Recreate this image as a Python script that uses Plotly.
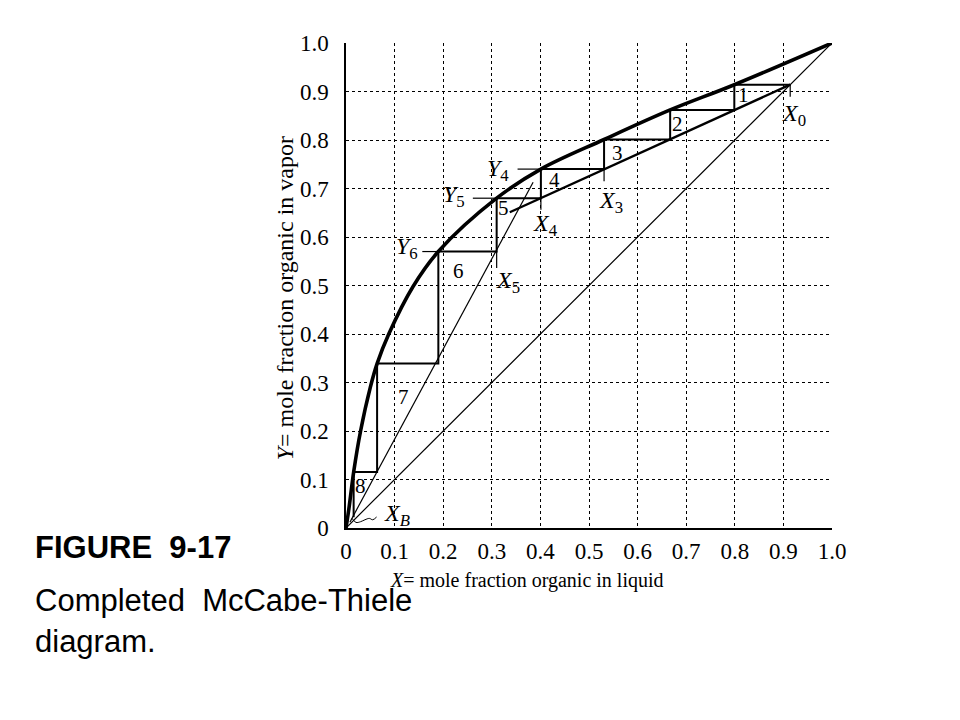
import plotly.graph_objects as go

# ---- data ----
eq_x = [0.0, 0.006, 0.016, 0.030, 0.050, 0.064, 0.088, 0.138, 0.190, 0.310, 0.401, 0.531, 0.667, 0.799, 1.0]
eq_y = [0.0, 0.040, 0.117, 0.200, 0.290, 0.339, 0.400, 0.498, 0.570, 0.680, 0.740, 0.801, 0.862, 0.914, 1.0]

diag_x = [0.0, 1.0]
diag_y = [0.0, 1.0]

upper_op_x = [0.914, 0.337]
upper_op_y = [0.914, 0.651]

lower_op_x = [0.008, 0.385]
lower_op_y = [0.012, 0.713]

X0 = 0.914
stage_x = [0.799, 0.667, 0.531, 0.401, 0.310, 0.190, 0.064, 0.0157]
stage_y = [0.914, 0.862, 0.801, 0.740, 0.680, 0.570, 0.339, 0.1155]
last_y = 0.022
stage_lbl = ["1", "2", "3", "4", "5", "6", "7", "8"]
stage_lbl_x = [0.818, 0.682, 0.558, 0.428, 0.325, 0.232, 0.118, 0.030]
stage_lbl_y = [0.893, 0.832, 0.773, 0.718, 0.660, 0.529, 0.271, 0.086]

# short marker ticks
tick_X_x = [0.914, 0.531, 0.401, 0.310, 0.010]
tick_X_y0 = [0.914, 0.740, 0.680, 0.570, 0.0]
tick_X_y1 = [0.889, 0.715, 0.656, 0.536, -0.03]
tick_Y_y = [0.740, 0.680, 0.570]
tick_Y_x0 = [0.353, 0.261, 0.157]
tick_Y_x1 = [0.401, 0.310, 0.190]

squig_x = [0.0117, 0.0206, 0.030, 0.039, 0.048, 0.055, 0.063]
squig_y = [0.0206, 0.0115, 0.013, 0.017, 0.0198, 0.017, 0.0227]

pt_labels = ["<i>X</i><sub>0</sub>", "<i>X</i><sub>3</sub>", "<i>X</i><sub>4</sub>", "<i>X</i><sub>5</sub>",
             "<i>X<sub>B</sub></i>", "<i>Y</i><sub>4</sub>", "<i>Y</i><sub>5</sub>", "<i>Y</i><sub>6</sub>"]
pt_lbl_x = [0.893, 0.517, 0.380, 0.305, 0.075, 0.340, 0.248, 0.152]
pt_lbl_y = [0.852, 0.673, 0.625, 0.508, 0.027, 0.739, 0.685, 0.577]
pt_anchor = ["left", "left", "left", "left", "left", "right", "right", "right"]

tick_vals = [0, 0.1, 0.2, 0.3, 0.4, 0.5, 0.6, 0.7, 0.8, 0.9, 1.0]
tick_text = ["0", "0.1", "0.2", "0.3", "0.4", "0.5", "0.6", "0.7", "0.8", "0.9", "1.0"]

SERIF = "Liberation Serif, Times New Roman, serif"
SANS = "Liberation Sans, Arial, sans-serif"

fig = go.Figure()

def line(xs, ys, w, shape="linear"):
    fig.add_trace(go.Scatter(x=xs, y=ys, mode="lines", line=dict(color="black", width=w, shape=shape),
                             hoverinfo="skip", showlegend=False, cliponaxis=False))

line(diag_x, diag_y, 1.2)
line(lower_op_x, lower_op_y, 1.2)
line(upper_op_x, upper_op_y, 2.4)

# staircase
sx, sy = [X0], [stage_y[0]]
for i, xv in enumerate(stage_x):
    sx.append(xv); sy.append(stage_y[i])
    nxt = stage_y[i + 1] if i + 1 < len(stage_y) else last_y
    sx.append(xv); sy.append(nxt)
line(sx, sy, 2.0)

for xv, a, b in zip(tick_X_x, tick_X_y0, tick_X_y1):
    line([xv, xv], [a, b], 1.2)
for yv, a, b in zip(tick_Y_y, tick_Y_x0, tick_Y_x1):
    line([a, b], [yv, yv], 1.2)

line(squig_x, squig_y, 1.0, "spline")
line(eq_x, eq_y, 3.6, "spline")

for t, xv, yv in zip(stage_lbl, stage_lbl_x, stage_lbl_y):
    fig.add_annotation(x=xv, y=yv, text=t, showarrow=False, xanchor="center", yanchor="middle",
                       font=dict(family=SERIF, size=21, color="black"))
for t, xv, yv, an in zip(pt_labels, pt_lbl_x, pt_lbl_y, pt_anchor):
    fig.add_annotation(x=xv, y=yv, text=t, showarrow=False, xanchor=an, yanchor="middle",
                       font=dict(family=SERIF, size=24, color="black"))

# axis titles
fig.add_annotation(xref="paper", yref="paper", x=0.372, y=-0.108, showarrow=False,
                   xanchor="center", yanchor="middle",
                   text="<i>X</i>= mole fraction organic in liquid",
                   font=dict(family=SERIF, size=20, color="black"))
fig.add_annotation(xref="paper", yref="paper", x=-0.126, y=0.473, showarrow=False, textangle=-90,
                   xanchor="center", yanchor="middle",
                   text="<i>Y</i>= mole fraction organic in vapor",
                   font=dict(family=SERIF, size=24, color="black"))

# caption
fig.add_annotation(xref="paper", yref="paper", x=-0.644, y=-0.041, xanchor="left", yanchor="middle",
                   showarrow=False, text="<b>FIGURE  9-17</b>", font=dict(family=SANS, size=31, color="black"))
fig.add_annotation(xref="paper", yref="paper", x=-0.644, y=-0.150, xanchor="left", yanchor="middle",
                   showarrow=False, text="Completed  McCabe-Thiele", font=dict(family=SANS, size=31, color="black"))
fig.add_annotation(xref="paper", yref="paper", x=-0.644, y=-0.234, xanchor="left", yanchor="middle",
                   showarrow=False, text="diagram.", font=dict(family=SANS, size=31, color="black"))

axis_common = dict(range=[0, 1.0], tickvals=tick_vals, ticktext=tick_text, showgrid=True,
                   gridcolor="black", gridwidth=1, griddash="3px,3px", zeroline=False,
                   showline=True, linecolor="black", linewidth=1.5, ticks="",
                   tickfont=dict(family=SERIF, size=23, color="black"), fixedrange=True)

fig.update_xaxes(**axis_common, ticklabelstandoff=2)
fig.update_yaxes(**axis_common, ticklabelstandoff=11)

fig.update_layout(width=944, height=704, margin=dict(l=338, r=120, t=35, b=184),
                  plot_bgcolor="white", paper_bgcolor="white", showlegend=False)

fig.write_html("out.html")
